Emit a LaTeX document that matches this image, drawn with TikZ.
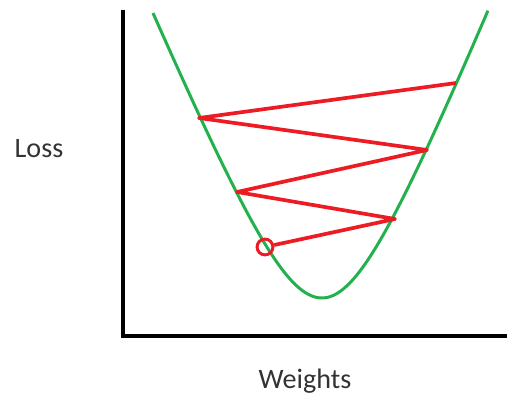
\documentclass[tikz,border=0pt]{standalone}
\usepackage{fontspec}
\setmainfont{Carlito}
\definecolor{paintgreen}{HTML}{22B14C}
\definecolor{paintred}{HTML}{ED1C24}
\usetikzlibrary{positioning}

\begin{document}
\begin{tikzpicture}[
    x=0.02cm, y=-0.02cm,
    axis/.style={line width=2.5pt, black},
    curve/.style={line width=1.7pt, paintgreen},
    zig/.style={line width=2.1pt, paintred, line join=round},
    pt/.style={circle, draw=paintred, line width=1.7pt,
               minimum size=9pt, inner sep=0pt},
    lbl/.style={font=\fontsize{16}{19}\selectfont, text=black!80}
  ]
  \useasboundingbox (0,0) rectangle (508,401);

  % axes
  \coordinate (top) at (123,10);
  \coordinate (orig) at (123,336);
  \coordinate (right) at (507,336);
  \draw[axis] (top) -- (orig) -- (right);

  % loss curve
  \draw[curve] plot[domain=-1.69:0, samples=60]
      ({322+100*\x}, {298-240*(sqrt(\x*\x+0.3709)-0.609)})
    -- plot[domain=0:1.66, samples=60]
      ({322+100*\x}, {298-248*(sqrt(\x*\x+0.3709)-0.609)});

  % descent steps
  \coordinate (s1) at (456,83);
  \coordinate (s2) at (199,118);
  \coordinate (s3) at (427,150);
  \coordinate (s4) at (237,192);
  \coordinate (s5) at (395,219);
  \node[pt] (s6) at (265,247) {};
  \draw[zig] (s1) -- (s2) -- (s3) -- (s4) -- (s5) -- (s6);

  \node[lbl] (loss) at (39,149) {Loss};
  \node[lbl] (weights) at (305,381) {Weights};
\end{tikzpicture}
\end{document}
